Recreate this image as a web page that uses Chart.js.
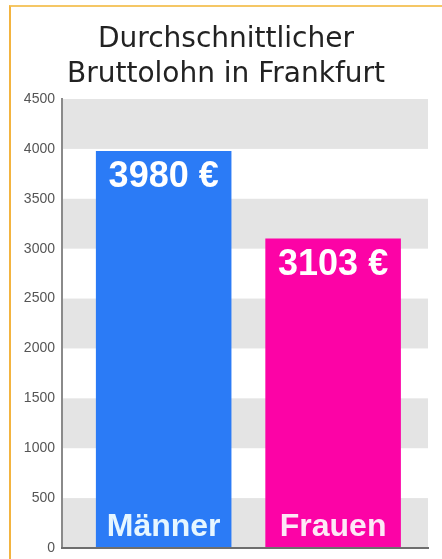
<!DOCTYPE html>
<html>
<head>
<meta charset="utf-8">
<script src="https://cdn.jsdelivr.net/npm/chart.js@4/dist/chart.umd.min.js"></script>
<style>
  body { margin: 0; background: #fff; }
  #wrap { position: relative; width: 442px; height: 559px; }
  #frame {
    position: absolute; left: 9px; top: 5px; right: 0; bottom: 0;
    border-left: 2px solid #f3b440; border-top: 2px solid #f5c765;
  }
  #chart { position: absolute; left: 0; top: 0; }
</style>
</head>
<body>
<div id="wrap">
  <div id="frame"></div>
  <canvas id="chart" width="442" height="559"></canvas>
</div>
<script>
// data
var categories = ['Männer', 'Frauen'];
var values = [3980, 3103];
var barColors = ['#2b7bf6', '#fc03a6'];
var labelColors = ['#e6f6ff', '#fde8f6'];
var titleLines = ['Durchschnittlicher', 'Bruttolohn in Frankfurt'];
var yMax = 4500;
var yStep = 500;

var bandColor = '#e4e4e4';

// grey stripes behind the bars
const bandPlugin = {
  id: 'bands',
  beforeDraw(chart) {
    const {ctx, chartArea, scales: {y}} = chart;
    ctx.save();
    ctx.fillStyle = bandColor;
    for (let v = 0; v < yMax; v += 2 * yStep) {
      const top = y.getPixelForValue(v + yStep);
      const bottom = y.getPixelForValue(v);
      ctx.fillRect(chartArea.left, top, chartArea.right - chartArea.left, bottom - top);
    }
    ctx.restore();
  }
};

// value on top, category name at the bottom, inside the bar
const barTextPlugin = {
  id: 'barText',
  afterDatasetsDraw(chart) {
    const ctx = chart.ctx;
    const meta = chart.getDatasetMeta(0);
    ctx.save();
    ctx.textAlign = 'center';
    ctx.textBaseline = 'alphabetic';
    meta.data.forEach(function (bar, i) {
      ctx.fillStyle = '#ffffff';
      ctx.font = 'bold 36px "Liberation Sans"';
      ctx.fillText(values[i] + ' €', bar.x, bar.y + 36.5);
      ctx.fillStyle = labelColors[i];
      ctx.font = 'bold 32px "Liberation Sans"';
      ctx.fillText(categories[i], bar.x, bar.base - 12);
    });
    ctx.restore();
  }
};

new Chart(document.getElementById('chart'), {
  type: 'bar',
  data: {
    datasets: [{
      data: values.map((v, i) => ({x: i, y: v})),
      backgroundColor: barColors,
      borderWidth: 0,
      barPercentage: 0.8,
      categoryPercentage: 1
    }]
  },
  options: {
    responsive: false,
    animation: false,
    layout: { padding: { left: 24, right: 14, top: 22, bottom: 11 } },
    plugins: {
      legend: { display: false },
      tooltip: { enabled: false },
      title: {
        display: true,
        text: titleLines,
        color: '#222',
        font: { family: 'DejaVu Sans', size: 28, weight: 'normal', lineHeight: 1.25 },
        padding: { top: 0, bottom: 7 }
      }
    },
    scales: {
      x: {
        type: 'linear',
        offset: false,
        min: -0.6,
        max: 1.56,
        afterBuildTicks: function (scale) {
          scale.ticks = categories.map((c, i) => ({value: i}));
        },
        ticks: { display: false },
        grid: { display: false, drawTicks: false },
        border: { display: true, color: '#6e6e6e', width: 2, z: 1 }
      },
      y: {
        min: 0,
        max: yMax,
        ticks: {
          stepSize: yStep,
          color: '#555',
          padding: 7,
          font: { family: 'Liberation Sans', size: 14, lineHeight: 0.4 },
          callback: function (value) { return String(value); }
        },
        grid: { display: false, drawTicks: false },
        border: { display: true, color: '#8a8a8a', width: 2 },
        afterFit: function (scale) { scale.width = 38; }
      }
    }
  },
  plugins: [bandPlugin, barTextPlugin]
});
</script>
</body>
</html>
